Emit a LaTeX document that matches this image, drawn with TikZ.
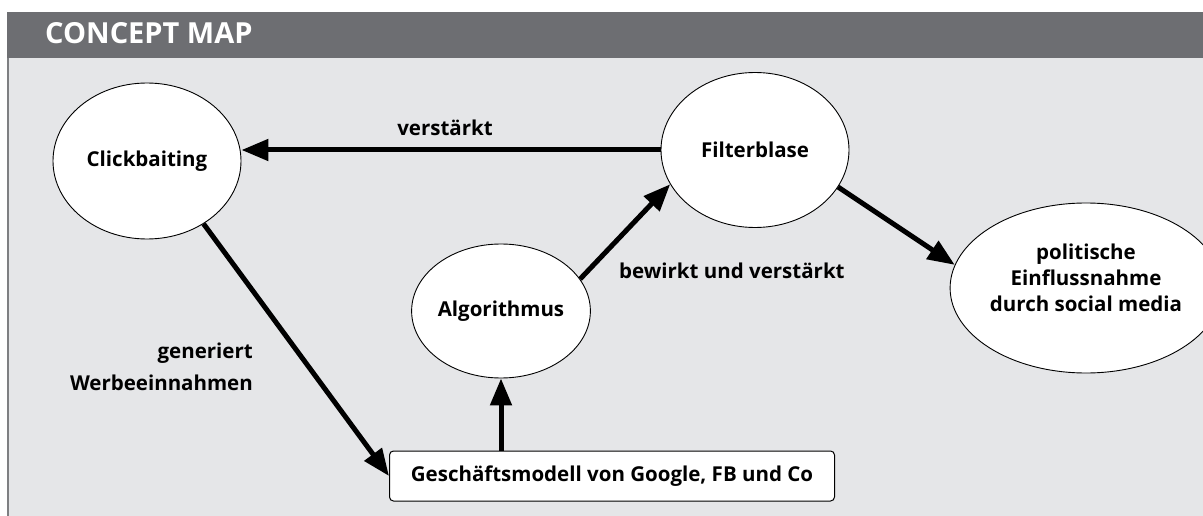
\documentclass[tikz,border=0pt]{standalone}
\usepackage{fontspec}
\setmainfont{Open Sans}
\usetikzlibrary{positioning,shapes.geometric,arrows.meta}
\definecolor{headgray}{HTML}{6D6E72}
\definecolor{panelgray}{HTML}{E5E6E8}
\definecolor{edgegray}{HTML}{7E7F82}

\begin{document}
\begin{tikzpicture}[x=1pt,y=-1pt]
  \tikzstyle{concept} = [draw,ellipse,fill=white,line width=0.9pt,inner sep=0pt,align=center,font=\fontsize{20.5}{26}\selectfont\bfseries]
  \tikzstyle{conceptbox} = [draw,rectangle,rounded corners=4pt,fill=white,line width=1pt,minimum width=445pt,minimum height=50pt,font=\fontsize{20.5}{24}\selectfont\bfseries]
  \tikzstyle{link} = [line width=5pt,-{Triangle[length=27pt,width=21pt]}]
  \tikzstyle{linklabel} = [inner sep=0pt,align=right,font=\fontsize{20.5}{32}\selectfont\bfseries]
  \useasboundingbox (0,0) rectangle (1203,516);
  % panel with title bar
  \fill[panelgray] (7,58) rectangle (1203,516);
  \fill[headgray] (7,12) rectangle (1203,58);
  \draw[edgegray,line width=2pt] (8,58) -- (8,516);
  \node[anchor=base west,inner sep=0pt,text=white,font=\fontsize{29}{34}\selectfont\bfseries] (title) at (45,44) {CONCEPT MAP};

  % concepts
  \node[concept,minimum width=188pt,minimum height=156pt] (click) at (147,161) {Clickbaiting};
  \node[concept,minimum width=188pt,minimum height=155pt] (filt) at (755,150) {Filterblase};
  \node[concept,minimum width=160pt,minimum height=134pt] (algo) at (501,311) {Algorithmus};
  \node[concept,minimum width=222pt,minimum height=170pt,text depth=20pt] (pol) at (1086,288) {politische\\Einflussnahme\\durch social media};
  \node[conceptbox] (model) at (612,476) {Geschäftsmodell von Google, FB und Co};

  % links
  \draw[link] (filt.west) -- (filt.west -| click.east);
  \draw[link] (click.-48) -- (model.west);
  \draw[link] (algo.south |- model.north) -- (algo.south);
  \draw[link] (algo.22) -- (filt.202);
  \draw[link] (filt.-24) -- (pol.170);

  % link labels
  \node[linklabel,anchor=base] (lreinforce) at (445,136) {verstärkt};
  \node[linklabel,anchor=east] (lrevenue) at (253,367) {generiert\\Werbeeinnahmen};
  \node[linklabel,anchor=base west] (lcause) at (619,278) {bewirkt und verstärkt};
\end{tikzpicture}
\end{document}
